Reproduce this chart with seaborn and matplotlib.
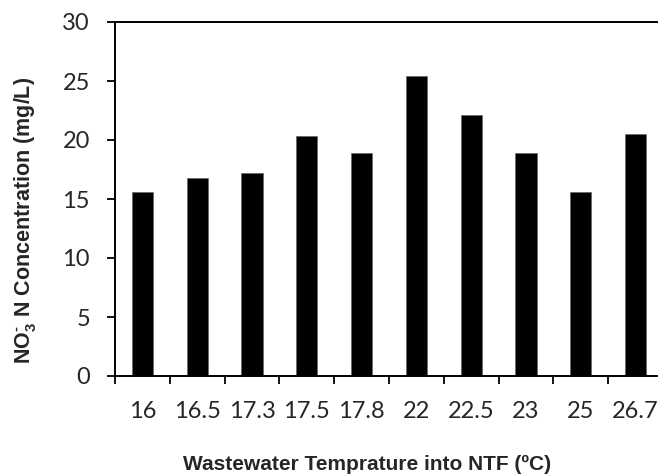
import numpy as np
import pandas as pd
import seaborn as sns
import matplotlib.pyplot as plt
from matplotlib.ticker import FixedLocator

temps = ["16", "16.5", "17.3", "17.5", "17.8", "22", "22.5", "23", "25", "26.7"]
no3 = [15.6, 16.8, 17.2, 20.3, 18.9, 25.4, 22.1, 18.9, 15.6, 20.5]
y_ticks = [0, 5, 10, 15, 20, 25, 30]

sns.set_theme(style="white")
plt.rcParams['font.family'] = ['Lato', 'DejaVu Sans']
plt.rcParams['mathtext.fontset'] = 'custom'
plt.rcParams['mathtext.rm'] = 'Liberation Sans:bold'
plt.rcParams['mathtext.bf'] = 'Liberation Sans:bold'

df = pd.DataFrame({"Temp": temps, "NO3": no3})

fig = plt.figure(figsize=(6.58, 4.75), dpi=100)
# plot area runs past the right edge of the picture, like the original crop
ax = fig.add_axes([115 / 658, 1 - 376 / 475, 548 / 658, 354 / 475])
sns.barplot(data=df, x="Temp", y="NO3", color="black", saturation=1,
            width=0.39, edgecolor="#666666", linewidth=0.5, ax=ax)

ax.set_xlim(-0.5, len(temps) - 0.5)
ax.set_ylim(0, 30)
ax.set_yticks(y_ticks)
ax.set_yticklabels([str(t) for t in y_ticks], fontsize=17)

# Excel style: tick marks between categories, labels centred under bars
ax.xaxis.set_major_locator(FixedLocator(np.arange(-0.5, len(temps), 1.0)))
ax.xaxis.set_minor_locator(FixedLocator(np.arange(len(temps))))
ax.set_xticklabels([], minor=False)
ax.set_xticklabels(temps, minor=True, fontsize=17)
ax.tick_params(axis="x", which="major", direction="out", length=5.5, width=1.3, color="black", bottom=True)
ax.tick_params(axis="x", which="minor", length=0, pad=18)
ax.tick_params(axis="y", direction="out", length=6, width=1.3, color="black", left=True, pad=12)

for side in ["left", "bottom", "top"]:
    ax.spines[side].set_color("black")
    ax.spines[side].set_linewidth(1.4)
ax.spines["right"].set_visible(False)

ax.set_xlabel("Wastewater Temprature into NTF (\u00baC)", fontsize=15, fontweight="bold",
              family="Liberation Sans")
ax.xaxis.set_label_coords((367 - 115) / 548, -0.222)
ax.set_ylabel(r"NO$_{3}^{\text{-}}$ N Concentration (mg/L)", fontsize=15.5, fontweight="bold",
              family="Liberation Sans")
ax.yaxis.set_label_coords(-0.1405, (376 - 220) / 354)

fig.savefig("out.png", dpi=100)
